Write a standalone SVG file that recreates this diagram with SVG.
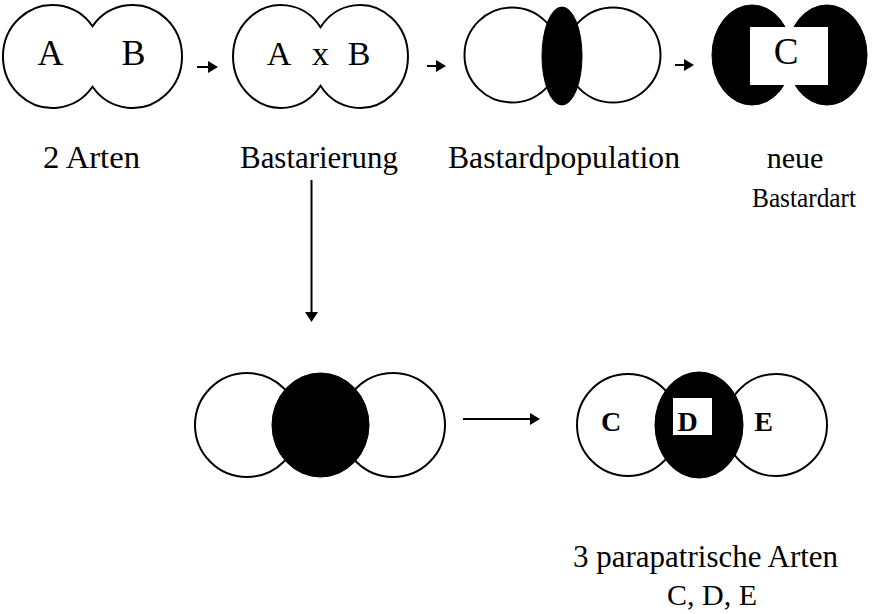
<svg xmlns="http://www.w3.org/2000/svg" width="873" height="614" viewBox="0 0 873 614">
<style>
.o{fill:#fff;stroke:#000;stroke-width:2}
.b{fill:#000;stroke:#000;stroke-width:1}
.t{font-family:"Liberation Serif","Times New Roman",serif;fill:#000}
.c{stroke:#000;stroke-width:2;fill:none}
</style>
<defs>
<marker id="ah" markerUnits="userSpaceOnUse" markerWidth="10" markerHeight="12" viewBox="0 0 10 12" refX="0" refY="6" orient="auto">
<path d="M0,0 L10,6 L0,12 Z" fill="#000"/>
</marker>
<marker id="ahv" markerUnits="userSpaceOnUse" markerWidth="10" markerHeight="13" viewBox="0 0 10 13" refX="0" refY="6.5" orient="auto">
<path d="M0,0 L10,6.5 L0,13 Z" fill="#000"/>
</marker>
</defs>
<rect width="873" height="614" fill="#fff"/>
<g id="n1">
<path class="o" d="M92.5,26.2 A49.5,51.5 0 1 0 92.5,86.8 A49.5,51.5 0 1 0 92.5,26.2 Z"/>
<text class="t" x="50.5" y="65" font-size="36" text-anchor="middle">A</text>
<text class="t" x="133.5" y="65" font-size="36" text-anchor="middle">B</text>
<text class="t" x="43" y="168" font-size="31" textLength="97" lengthAdjust="spacingAndGlyphs">2 Arten</text>
</g>
<g id="n2">
<path class="o" d="M320.5,27.2 A48,51.5 0 1 0 320.5,85.8 A48,51.5 0 1 0 320.5,27.2 Z"/>
<text class="t" x="279" y="65" font-size="34" text-anchor="middle">A</text>
<text class="t" x="320.5" y="65" font-size="34" text-anchor="middle">x</text>
<text class="t" x="359" y="65" font-size="34" text-anchor="middle">B</text>
<text class="t" x="240" y="168" font-size="31" textLength="158" lengthAdjust="spacingAndGlyphs">Bastarierung</text>
</g>
<g id="n3">
<circle class="o" cx="512" cy="55" r="47.5"/>
<circle class="o" cx="613" cy="55" r="47.5"/>
<ellipse class="b" cx="562" cy="56" rx="20" ry="49"/>
<text class="t" x="448" y="168" font-size="31" textLength="232" lengthAdjust="spacingAndGlyphs">Bastardpopulation</text>
</g>
<g id="n4">
<ellipse class="b" cx="752" cy="55" rx="40" ry="50"/>
<ellipse class="b" cx="827" cy="55" rx="40" ry="50"/>
<rect x="750" y="27" width="78" height="58" fill="#fff"/>
<text class="t" x="786" y="64" font-size="37" text-anchor="middle">C</text>
<text class="t" x="795" y="168" font-size="30" text-anchor="middle">neue</text>
<text class="t" x="804" y="207" font-size="28">
<tspan x="752" textLength="104" lengthAdjust="spacingAndGlyphs">Bastardart</tspan>
</text>
</g>
<g id="n5">
<circle class="o" cx="247" cy="425" r="52"/>
<circle class="o" cx="393" cy="425" r="52"/>
<ellipse class="b" cx="320.5" cy="425" rx="48.5" ry="52"/>
</g>
<g id="n6">
<circle class="o" cx="628" cy="425" r="51"/>
<circle class="o" cx="776" cy="425" r="51"/>
<ellipse class="b" cx="699" cy="425" rx="44" ry="53"/>
<rect x="673" y="398" width="39" height="37" fill="#fff"/>
<text class="t" x="611" y="431" font-size="28" font-weight="bold" text-anchor="middle">C</text>
<text class="t" x="687.5" y="431" font-size="28" font-weight="bold" text-anchor="middle">D</text>
<text class="t" x="763.5" y="431" font-size="28" font-weight="bold" text-anchor="middle">E</text>
<text class="t" x="573" y="567" font-size="31">3 parapatrische Arten</text>
<text class="t" x="712" y="605" font-size="30" text-anchor="middle">C, D, E</text>
</g>
<g id="connectors">
<line class="c" x1="197" y1="67" x2="208" y2="67" marker-end="url(#ah)"/>
<line class="c" x1="427" y1="66" x2="436" y2="66" marker-end="url(#ah)"/>
<line class="c" x1="675" y1="65" x2="684" y2="65" marker-end="url(#ah)"/>
<line class="c" x1="311.5" y1="180" x2="311.5" y2="312" marker-end="url(#ahv)"/>
<line class="c" x1="463" y1="419" x2="530" y2="419" marker-end="url(#ah)"/>
</g>
</svg>
